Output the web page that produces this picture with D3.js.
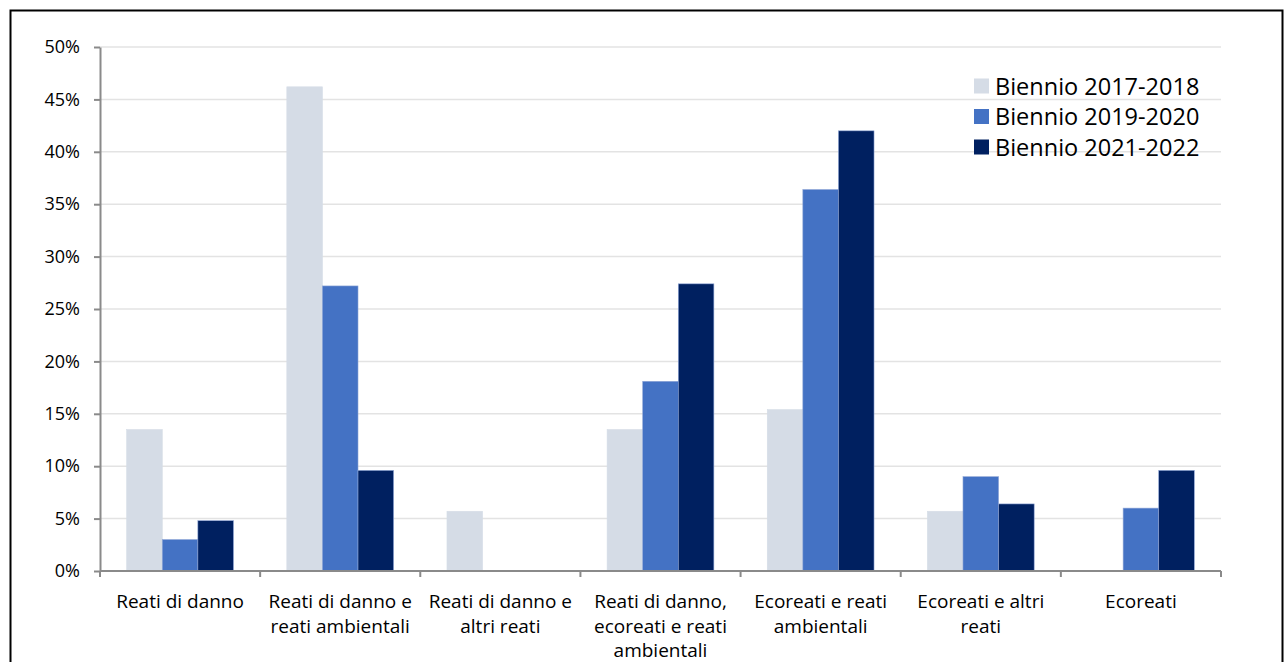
<!DOCTYPE html>
<html><head><meta charset="utf-8">
<script src="https://cdn.jsdelivr.net/npm/d3@7"></script>
<style>body{margin:0;background:#fff;} svg{display:block;font-family:"Open Sans",sans-serif;}</style>
</head><body>
<svg id="c" width="1285" height="662"></svg>
<script>
const categories = [
  ["Reati di danno"],
  ["Reati di danno e", "reati ambientali"],
  ["Reati di danno e", "altri reati"],
  ["Reati di danno,", "ecoreati e reati", "ambientali"],
  ["Ecoreati e reati", "ambientali"],
  ["Ecoreati e altri", "reati"],
  ["Ecoreati"]
];
const seriesNames = ["Biennio 2017-2018", "Biennio 2019-2020", "Biennio 2021-2022"];
const s2017 = [13.5, 46.2, 5.7, 13.5, 15.4, 5.7, 0];
const s2019 = [3.0, 27.2, 0, 18.1, 36.4, 9.0, 6.0];
const s2021 = [4.8, 9.6, 0, 27.4, 42.0, 6.4, 9.6];
const yTicks = [0, 5, 10, 15, 20, 25, 30, 35, 40, 45, 50];
const colors = ["#d5dce6", "#4472c4", "#002060"];

const svg = d3.select("#c");
svg.append("rect").attr("x", 10.5).attr("y", 10.5).attr("width", 1272).attr("height", 700)
  .attr("fill", "#fff").attr("stroke", "#000").attr("stroke-width", 2);

const pLeft = 100, pRight = 1221, pTop = 47, pBottom = 571;
const idx = categories.map((d, i) => i);
const x0 = d3.scaleBand().domain(idx).range([pLeft, pRight]).padding(0);
const bw = x0.bandwidth();
const x1 = d3.scaleBand().domain([0, 1, 2]).range([bw / 6, bw - bw / 6]).padding(0);
const y = d3.scaleLinear().domain([0, 50]).range([pBottom, pTop]);

// gridlines
svg.append("g").selectAll("line").data(yTicks.filter(t => t > 0)).join("line")
  .attr("x1", pLeft).attr("x2", pRight).attr("y1", d => y(d)).attr("y2", d => y(d))
  .attr("stroke", "#e3e3e3").attr("stroke-width", 1.5);

// bars
const series = [s2017, s2019, s2021];
const g = svg.append("g");
series.forEach((s, si) => {
  g.append("g").selectAll("rect").data(s.map((v, i) => ({v, i}))).join("rect")
    .attr("x", d => x0(d.i) + x1(si))
    .attr("width", x1.bandwidth())
    .attr("y", d => y(d.v))
    .attr("height", d => y(0) - y(d.v))
    .attr("fill", colors[si])
    .attr("stroke", d => d.v > 0 ? (si === 0 ? "#d5dce6" : "#8fa6d6") : "none")
    .attr("stroke-width", 0.6);
});

// y axis
const yAxis = d3.axisLeft(y).tickValues(yTicks).tickFormat(d => d + "%").tickSize(6).tickSizeOuter(0);
const ya = svg.append("g").attr("transform", `translate(${pLeft},0)`).call(yAxis);
ya.select(".domain").attr("stroke", "#8a8a8a").attr("stroke-width", 2);
ya.selectAll(".tick line").attr("stroke", "#8a8a8a").attr("stroke-width", 2);
ya.selectAll(".tick text").attr("x", -20).attr("fill", "#000").style("font-size", "18px").style("font-family", "Open Sans");

// x axis
const xa = svg.append("g").attr("transform", `translate(0,${pBottom})`);
xa.append("line").attr("x1", pLeft).attr("x2", pRight).attr("stroke", "#8a8a8a").attr("stroke-width", 2);
const bounds = idx.map(i => x0(i)).concat([pRight]);
xa.selectAll("line.t").data(bounds).join("line").attr("class", "t")
  .attr("x1", d => d).attr("x2", d => d).attr("y1", 0).attr("y2", 6)
  .attr("stroke", "#8a8a8a").attr("stroke-width", 2);
const labels = xa.selectAll("text.c").data(categories).join("text").attr("class", "c")
  .attr("text-anchor", "middle").attr("fill", "#000").style("font-size", "19px");
labels.each(function(lines, i) {
  const t = d3.select(this);
  lines.forEach((l, li) => {
    t.append("tspan").attr("x", x0(i) + bw / 2).attr("y", 37 + li * 24.5).text(l);
  });
});

// legend
const lg = svg.append("g");
seriesNames.forEach((n, i) => {
  const cy = 86 + i * 30.5;
  lg.append("rect").attr("x", 974).attr("y", cy - 7.5).attr("width", 15).attr("height", 15).attr("fill", colors[i]);
  lg.append("text").attr("x", 995).attr("y", cy + 8.5).attr("fill", "#000").style("font-size", "23.5px").text(n);
});
</script>
</body></html>
